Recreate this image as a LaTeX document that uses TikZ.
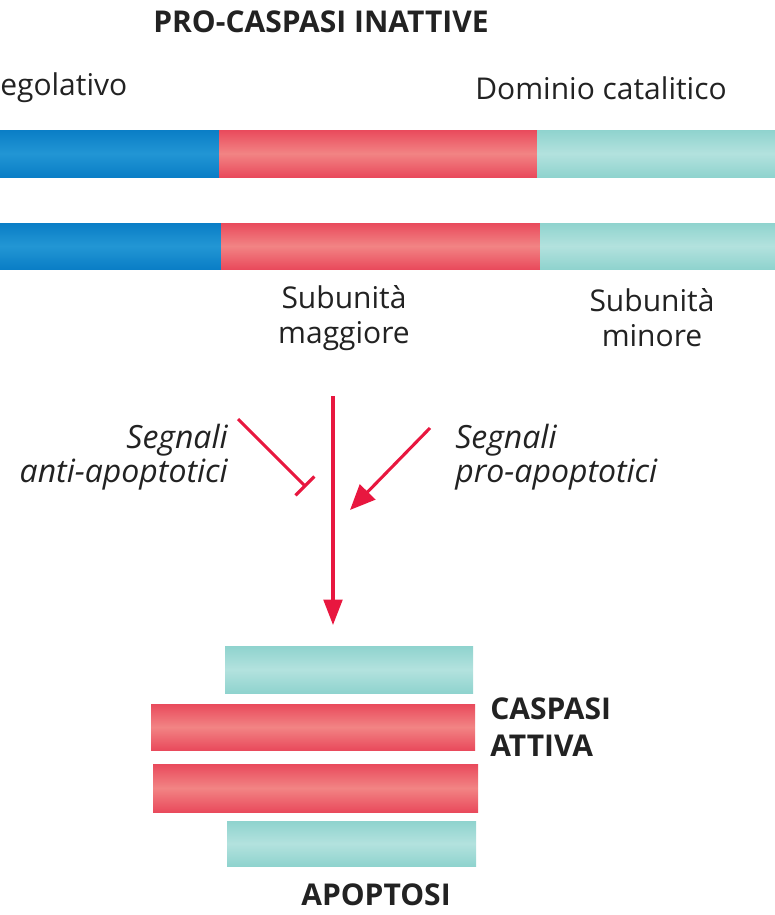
\documentclass[tikz,border=0pt]{standalone}
\usepackage{fontspec}
\setmainfont{Open Sans}
\usetikzlibrary{calc,arrows.meta,positioning,fit}

\definecolor{txt}{HTML}{222222}
\definecolor{bluedark}{HTML}{0A7EC6}
\definecolor{bluelight}{HTML}{2296D4}
\definecolor{reddark}{HTML}{E94A5C}
\definecolor{redlight}{HTML}{F28484}
\definecolor{tealdark}{HTML}{8FD3CE}
\definecolor{teallight}{HTML}{B3E2DE}
\definecolor{sig}{HTML}{E8173F}

\tikzset{
  seg/.style={inner sep=0pt, outer sep=0pt},
  blueseg/.style={seg, top color=bluedark, bottom color=bluedark, middle color=bluelight},
  redseg/.style={seg, top color=reddark, bottom color=reddark, middle color=redlight},
  tealseg/.style={seg, top color=tealdark, bottom color=tealdark, middle color=teallight},
  lbl/.style={text=txt, font=\fontsize{22.5}{26.3}\selectfont, inner sep=0pt},
  lblb/.style={lbl, font=\fontsize{22.5}{27.5}\selectfont\bfseries},
  lbli/.style={lbl, font=\fontsize{24}{26}\selectfont\itshape},
  sig line/.style={draw=sig, line width=2.3pt}
}

\begin{document}
\begin{tikzpicture}[x=0.75pt, y=-0.75pt]
        \useasboundingbox (0,0) rectangle (775,915);

        % titoli
        \node[lblb] (title) at (321,22) {PRO-CASPASI INATTIVE};
        \node[lbl, anchor=west] (reg) at (0,88) {egolativo};
        \node[lbl] (cat) at (601,88) {Dominio catalitico};

        % pro-caspasi
        \node[blueseg, fit={(0,130) (219,177)}] (blue1) {};
        \node[redseg, fit={(219,130) (537,177)}] (red1) {};
        \node[tealseg, fit={(537,130) (775,177)}] (teal1) {};
        \node[blueseg, fit={(0,223) (221,269)}] (blue2) {};
        \node[redseg, fit={(221,223) (540,269)}] (red2) {};
        \node[tealseg, fit={(540,223) (775,269)}] (teal2) {};

        \node[lbl, align=center] (maj) at (344,318) {Subunità\\maggiore};
        \node[lbl, align=center] (min) at (652,318) {Subunità\\minore};

        % segnali
        \coordinate (top) at (333,396);
        \coordinate (bot) at (333,625);
        \coordinate (antiS) at (238,419);
        \coordinate (antiE) at (306,487);
        \coordinate (proS) at (430,428);
        \coordinate (proE) at (350,510);
        \draw[sig line, -{Triangle[length=19pt, width=14pt]}] (top) -- (bot);
        \draw[sig line, -{Bar[width=20pt, line width=2.3pt]}] (antiS) -- (antiE);
        \draw[sig line, -{Triangle[length=19pt, width=16pt]}] (proS) -- (proE);

        \node[lbli, anchor=east, align=right] (anti) at (228,457) {Segnali\\anti-apoptotici};
        \node[lbli, anchor=west, align=left] (pro) at (455,457) {Segnali\\pro-apoptotici};

        % caspasi attiva
        \node[tealseg, fit={(225,646) (473,693)}] (act1) {};
        \node[redseg, fit={(151,704) (475,750)}] (act2) {};
        \node[redseg, fit={(153,764) (478,812)}] (act3) {};
        \node[tealseg, fit={(227,821) (476,866)}] (act4) {};

        \node[lblb, anchor=west, align=left] (att) at (490,727) {CASPASI\\ATTIVA};
        \node[lblb] (apo) at (376,895) {APOPTOSI};
\end{tikzpicture}
\end{document}
